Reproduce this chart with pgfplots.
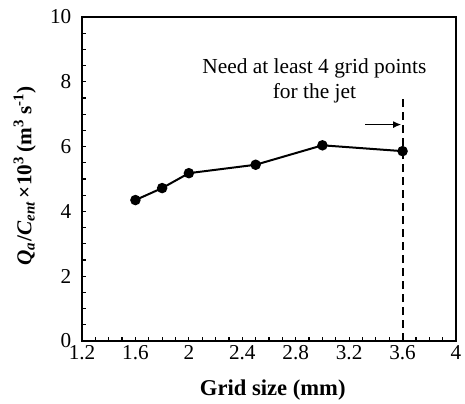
\documentclass[border=0pt]{standalone}
\usepackage{pgfplots}
\pgfplotsset{compat=1.18}
\usepackage{fontspec}
\setmainfont{Liberation Serif}
\usetikzlibrary{arrows.meta}
\begin{document}
\begin{tikzpicture}
\begin{axis}[
  name=ax,
  scale only axis,
  width=187pt, height=162pt,
  xmin=1.2, xmax=4, ymin=0, ymax=10,
  xtick={1.2,1.6,2,2.4,2.8,3.2,3.6,4},
  xticklabels={1.2,1.6,2,2.4,2.8,3.2,3.6,4},
  ytick={0,2,4,6,8,10},
  minor x tick num=3,
  minor y tick num=3,
  tick align=inside,
  xtick pos=bottom, ytick pos=left,
  major tick length=2.2pt, minor tick length=2pt,
  axis line style={line width=0.8pt},
  tick style={line width=0.6pt, black},
  /pgf/number format/assume math mode=true,
  ticklabel style={font=\fontsize{10.6}{12}\selectfont},
  xticklabel style={yshift=1.2pt},
  yticklabel style={xshift=-1.8pt},
  xlabel={\textbf{Grid size (mm)}},
  xlabel style={font=\fontsize{11.3}{13}\selectfont, at={(axis description cs:0.51,-0.152)}, anchor=center},
  ylabel={\textbf{\textit{Q}\textsubscript{\textit{a}}/\textit{C}\textsubscript{\textit{ent}}\hspace{0.15em}×10\textsuperscript{3}\hspace{0.2em}(m\textsuperscript{3}\hspace{0.2em}s\textsuperscript{-1})}},
  ylabel style={font=\fontsize{10.6}{12}\selectfont, at={(axis description cs:-0.153,0.51)}, anchor=center},
  clip=false,
]
\addplot[black, line width=1pt, mark=*, mark size=2.1pt] coordinates {
  (1.6,4.35) (1.8,4.72) (2.0,5.18) (2.5,5.44) (3.0,6.04) (3.6,5.86)
};
\addplot[black, line width=1pt, dash pattern=on 4pt off 2.5pt] coordinates {
  (3.6,0) (3.6,7.48)
};
\draw[-{Latex[length=4pt,width=3.5pt]}, line width=0.7pt] (axis cs:3.32,6.68) -- (axis cs:3.59,6.68);
\node[font=\fontsize{10.7}{12.5}\selectfont, align=center, inner sep=0pt] at (axis cs:2.94,8.04) {Need at least 4 grid points\\for the jet};
\end{axis}
\pgfresetboundingbox
\useasboundingbox ([shift={(-41pt,-31pt)}]ax.south west) rectangle ([shift={(4.5pt,8.5pt)}]ax.north east);
\end{tikzpicture}
\end{document}
